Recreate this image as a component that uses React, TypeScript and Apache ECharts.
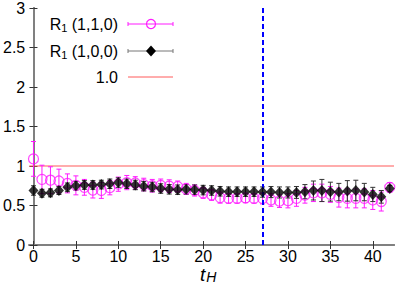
import React, { useEffect, useRef } from "react";
import * as echarts from "echarts";

const tValues = Array.from({ length: 43 }, (_, i) => i);
const r110 = [1.09, 0.83, 0.82, 0.81, 0.78, 0.755, 0.73, 0.695, 0.69, 0.725, 0.77, 0.79, 0.785, 0.765, 0.75, 0.755, 0.745, 0.74, 0.71, 0.69, 0.66, 0.635, 0.6, 0.59, 0.59, 0.595, 0.59, 0.59, 0.57, 0.555, 0.56, 0.59, 0.63, 0.66, 0.66, 0.64, 0.6, 0.59, 0.59, 0.59, 0.57, 0.55, 0.73];
const r110Err = [0.22, 0.18, 0.17, 0.15, 0.12, 0.12, 0.1, 0.1, 0.1, 0.09, 0.09, 0.09, 0.08, 0.08, 0.08, 0.08, 0.08, 0.07, 0.07, 0.07, 0.07, 0.07, 0.07, 0.06, 0.06, 0.06, 0.06, 0.07, 0.08, 0.08, 0.09, 0.1, 0.1, 0.11, 0.11, 0.1, 0.12, 0.12, 0.12, 0.12, 0.12, 0.12, 0.06];
const r100 = [0.69, 0.655, 0.66, 0.69, 0.73, 0.75, 0.76, 0.76, 0.765, 0.775, 0.79, 0.775, 0.76, 0.745, 0.735, 0.715, 0.705, 0.7, 0.705, 0.7, 0.695, 0.69, 0.68, 0.675, 0.675, 0.675, 0.675, 0.67, 0.67, 0.665, 0.665, 0.665, 0.675, 0.69, 0.69, 0.675, 0.67, 0.685, 0.69, 0.67, 0.64, 0.61, 0.715];
const r100Err = [0.06, 0.05, 0.05, 0.05, 0.055, 0.055, 0.055, 0.055, 0.055, 0.06, 0.06, 0.06, 0.06, 0.06, 0.06, 0.06, 0.06, 0.06, 0.06, 0.06, 0.06, 0.06, 0.06, 0.06, 0.06, 0.06, 0.06, 0.065, 0.07, 0.07, 0.07, 0.075, 0.09, 0.12, 0.14, 0.12, 0.11, 0.13, 0.13, 0.11, 0.09, 0.08, 0.04];
const xTicks = [0, 5, 10, 15, 20, 25, 30, 35, 40];
const yTicks = [0, 0.5, 1, 1.5, 2, 2.5, 3];
const refLineY = 1.0;
const cutLineX = 27;
const xRange = [-0.5, 42.5];
const yRange = [0, 3];

const MAGENTA = "#ff1aff";
const BLACK = "#000000";
const REDLINE = "#ff5a5a";
const FONT = "Liberation Sans, Arial, sans-serif";

function errData(vals: number[], errs: number[]) {
  return tValues.map((t, i) => [t, vals[i] - errs[i], vals[i] + errs[i]]);
}

function errorSeries(vals: number[], errs: number[], color: string) {
  return {
    type: "custom",
    silent: true,
    data: errData(vals, errs),
    encode: { x: 0, y: [1, 2] },
    renderItem: (params: any, api: any) => {
      const x = api.value(0);
      const lo = api.coord([x, api.value(1)]);
      const hi = api.coord([x, api.value(2)]);
      const cap = 2.5;
      const style = { stroke: color, lineWidth: 1 };
      return {
        type: "group",
        children: [
          { type: "line", shape: { x1: lo[0], y1: lo[1], x2: hi[0], y2: hi[1] }, style },
          { type: "line", shape: { x1: lo[0] - cap, y1: lo[1], x2: lo[0] + cap, y2: lo[1] }, style },
          { type: "line", shape: { x1: hi[0] - cap, y1: hi[1], x2: hi[0] + cap, y2: hi[1] }, style },
        ],
      };
    },
    z: 3,
  };
}

function legendRow(label: string, y: number, color: string, marker: any, caps: boolean) {
  const children: any[] = [
    {
      type: "text",
      x: 118,
      y,
      style: {
        text: label,
        align: "right",
        verticalAlign: "middle",
        rich: {
          m: { fontFamily: FONT, fontSize: 16, fill: "#000" },
          s: { fontFamily: FONT, fontSize: 11, fill: "#000", verticalAlign: "bottom", padding: [8, 0, 0, 0] },
        },
      },
    },
    { type: "line", shape: { x1: 128, y1: y, x2: 173, y2: y }, style: { stroke: color, lineWidth: 1 } },
  ];
  if (caps) {
    children.push({ type: "line", shape: { x1: 128, y1: y - 2, x2: 128, y2: y + 2 }, style: { stroke: color, lineWidth: 1 } });
    children.push({ type: "line", shape: { x1: 173, y1: y - 2, x2: 173, y2: y + 2 }, style: { stroke: color, lineWidth: 1 } });
  }
  if (marker) children.push(marker);
  return { type: "group", children };
}

export default function App() {
  const ref = useRef<HTMLDivElement>(null);
  useEffect(() => {
    if (!ref.current) return;
    const chart = echarts.init(ref.current, null, { renderer: "svg" });
    const axisLine = { show: true, lineStyle: { color: "#808080", width: 2 } };
    chart.setOption({
      animation: false,
      grid: { left: 25, right: 11, top: 7, bottom: 39 },
      xAxis: [
        {
          type: "value",
          min: xRange[0],
          max: xRange[1],
          axisLine,
          axisTick: { show: true, inside: true, length: 4, customValues: xTicks, lineStyle: { color: "#333" } },
          axisLabel: { customValues: xTicks, fontFamily: FONT, fontSize: 16, lineHeight: 14, color: "#000", margin: 4 },
          splitLine: { show: false },
        },
        {
          type: "value",
          position: "top",
          min: xRange[0],
          max: xRange[1],
          axisLine,
          axisTick: { show: true, inside: true, length: 4, customValues: xTicks, lineStyle: { color: "#333" } },
          axisLabel: { show: false },
          splitLine: { show: false },
        },
      ],
      yAxis: [
        {
          type: "value",
          min: yRange[0],
          max: yRange[1],
          axisLine,
          axisTick: { show: true, inside: true, length: 4, customValues: yTicks, lineStyle: { color: "#333" } },
          axisLabel: { customValues: yTicks, fontFamily: FONT, fontSize: 16, color: "#000", margin: 4 },
          splitLine: { show: false },
        },
        {
          type: "value",
          position: "right",
          min: yRange[0],
          max: yRange[1],
          axisLine,
          axisTick: { show: true, inside: true, length: 4, customValues: yTicks, lineStyle: { color: "#333" } },
          axisLabel: { show: false },
          splitLine: { show: false },
        },
      ],
      series: [
        {
          type: "line",
          data: [[xRange[0], refLineY], [xRange[1], refLineY]],
          symbol: "none",
          lineStyle: { color: REDLINE, width: 1.2 },
          silent: true,
          z: 1,
          markLine: {
            silent: true,
            symbol: "none",
            label: { show: false },
            lineStyle: { color: "#0000ff", width: 2, type: [5, 3] },
            data: [{ xAxis: cutLineX }],
          },
        },
        errorSeries(r110, r110Err, MAGENTA),
        {
          type: "scatter",
          data: tValues.map((t, i) => [t, r110[i]]),
          symbol: "circle",
          symbolSize: 10,
          itemStyle: { color: "rgba(255,255,255,0)", borderColor: MAGENTA, borderWidth: 1.2 },
          z: 4,
        },
        errorSeries(r100, r100Err, "#333"),
        {
          type: "scatter",
          data: tValues.map((t, i) => [t, r100[i]]),
          symbol: "diamond",
          symbolSize: [10, 11],
          itemStyle: { color: BLACK },
          z: 5,
        },
      ],
      graphic: [
        legendRow("{m|R}{s|1}{m| (1,1,0)}", 24, MAGENTA, { type: "circle", shape: { cx: 151, cy: 24, r: 4.5 }, style: { fill: "none", stroke: MAGENTA, lineWidth: 1.2 } }, true),
        legendRow("{m|R}{s|1}{m| (1,0,0)}", 51, "#777", { type: "polygon", shape: { points: [[151, 45.5], [156, 51], [151, 56.5], [146, 51]] }, style: { fill: BLACK } }, true),
        legendRow("{m|1.0}", 77, REDLINE, null, false),
        {
          type: "text",
          x: 200,
          y: 274,
          style: {
            text: "{t|t}{h|H}",
            verticalAlign: "middle",
            rich: {
              t: { fontFamily: FONT, fontStyle: "italic", fontSize: 19, lineHeight: 14, fill: "#000" },
              h: { fontFamily: FONT, fontStyle: "italic", fontSize: 14, lineHeight: 11, fill: "#000", padding: [5, 0, 0, 1] },
            },
          },
        },
      ],
    });
    return () => chart.dispose();
  }, []);
  return <div ref={ref} style={{ width: 405, height: 284, position: "absolute", left: 0, top: 0 }} />;
}
